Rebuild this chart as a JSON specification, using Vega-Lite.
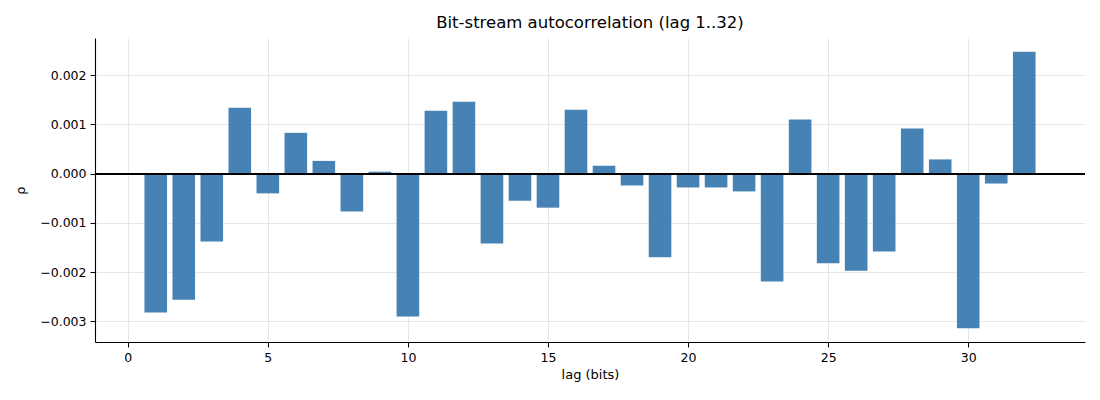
{
  "$schema": "https://vega.github.io/schema/vega-lite/v6.json",
  "width": 990,
  "height": 304,
  "autosize": "none",
  "padding": {"left": 95, "top": 38, "right": 15, "bottom": 58},
  "background": "white",
  "config": {
    "view": {"stroke": null},
    "font": "DejaVu Sans",
    "axis": {
      "labelFont": "DejaVu Sans",
      "titleFont": "DejaVu Sans",
      "labelFontSize": 12.5,
      "titleFontSize": 13,
      "titleFontWeight": "normal",
      "labelColor": "#000",
      "titleColor": "#000",
      "domainColor": "#000",
      "domainWidth": 1.1,
      "tickColor": "#000",
      "tickSize": 5,
      "tickWidth": 1,
      "gridColor": "#e4e4e4",
      "gridWidth": 0.9
    }
  },
  "title": {"text": "Bit-stream autocorrelation (lag 1..32)", "font": "DejaVu Sans", "fontSize": 16.5, "fontWeight": "normal", "color": "#000", "offset": 7},
  "data": {
    "values": [
      {"lag": 1, "rho": -0.00282},
      {"lag": 2, "rho": -0.00256},
      {"lag": 3, "rho": -0.00138},
      {"lag": 4, "rho": 0.00134},
      {"lag": 5, "rho": -0.00040},
      {"lag": 6, "rho": 0.00083},
      {"lag": 7, "rho": 0.00026},
      {"lag": 8, "rho": -0.00077},
      {"lag": 9, "rho": 0.00004},
      {"lag": 10, "rho": -0.00290},
      {"lag": 11, "rho": 0.00128},
      {"lag": 12, "rho": 0.00146},
      {"lag": 13, "rho": -0.00142},
      {"lag": 14, "rho": -0.00055},
      {"lag": 15, "rho": -0.00069},
      {"lag": 16, "rho": 0.00130},
      {"lag": 17, "rho": 0.00016},
      {"lag": 18, "rho": -0.00024},
      {"lag": 19, "rho": -0.00170},
      {"lag": 20, "rho": -0.00028},
      {"lag": 21, "rho": -0.00028},
      {"lag": 22, "rho": -0.00036},
      {"lag": 23, "rho": -0.00219},
      {"lag": 24, "rho": 0.00110},
      {"lag": 25, "rho": -0.00182},
      {"lag": 26, "rho": -0.00197},
      {"lag": 27, "rho": -0.00158},
      {"lag": 28, "rho": 0.00092},
      {"lag": 29, "rho": 0.00029},
      {"lag": 30, "rho": -0.00314},
      {"lag": 31, "rho": -0.00020},
      {"lag": 32, "rho": 0.00248}
    ]
  },
  "layer": [
    {
      "mark": {"type": "bar", "color": "#4682b4", "size": 22.6},
      "encoding": {
        "x": {"field": "lag", "type": "quantitative", "title": "lag (bits)",
              "scale": {"domain": [-0.99, 33.99], "nice": false, "zero": false},
              "axis": {"values": [0, 5, 10, 15, 20, 25, 30], "format": "d", "labelFontSize": 12.5, "titlePadding": 5, "labelPadding": 4}},
        "y": {"field": "rho", "type": "quantitative", "title": "ρ",
              "scale": {"domain": [-0.00342, 0.002757], "nice": false, "zero": false},
              "axis": {"values": [-0.003, -0.002, -0.001, 0, 0.001, 0.002], "labelExpr": "replace(format(datum.value, '.3f'), '-', '−')", "labelFontSize": 12.5, "titlePadding": 12, "labelPadding": 4}}
      }
    },
    {
      "mark": {"type": "rule", "color": "#000", "strokeWidth": 0.8},
      "encoding": {"y": {"datum": 0, "type": "quantitative"}}
    }
  ]
}
